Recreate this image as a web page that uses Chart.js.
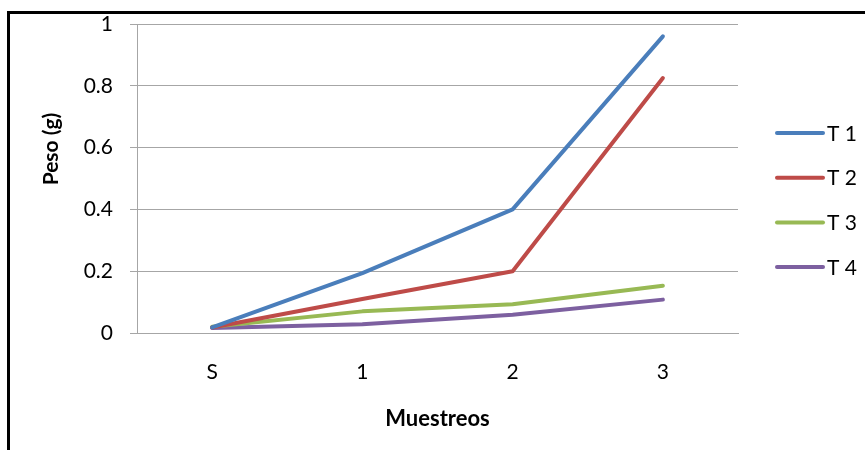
<!DOCTYPE html>
<html>
<head>
<meta charset="utf-8">
<script src="https://cdn.jsdelivr.net/npm/chart.js@4.4.1/dist/chart.umd.min.js"></script>
<style>
  html, body { margin: 0; padding: 0; background: #fff; overflow: hidden; }
  #wrap { position: relative; width: 865px; height: 450px; }
  #frame { position: absolute; left: 7px; top: 11px; width: 1000px; height: 600px;
           border: 3px solid #000; box-sizing: border-box; pointer-events: none; }
  canvas { position: absolute; left: 0; top: 0; }
</style>
</head>
<body>
<div id="wrap">
  <canvas id="c" width="865" height="450"></canvas>
  <div id="frame"></div>
</div>
<script>
// Sampling rounds (x axis)
const categories = ['S', '1', '2', '3'];

// Weight in grams per treatment
const t1 = [0.018, 0.194, 0.40, 0.96];
const t2 = [0.018, 0.11, 0.20, 0.825];
const t3 = [0.02, 0.07, 0.093, 0.153];
const t4 = [0.016, 0.028, 0.059, 0.108];

const seriesNames = ['T 1', 'T 2', 'T 3', 'T 4'];
const seriesColors = ['#4a7ebb', '#be4b48', '#98b954', '#7d60a0'];

const FONT = 'Lato, "Open Sans", sans-serif';
const GRID = '#a6a6a6';

// Y axis title and right-hand legend
const extras = {
  id: 'extras',
  afterDraw(chart) {
    const ctx = chart.ctx;
    ctx.save();
    ctx.fillStyle = '#000';
    ctx.font = 'bold 21px ' + FONT;
    ctx.textAlign = 'center';
    ctx.textBaseline = 'middle';
    ctx.translate(51, 149);
    ctx.rotate(-Math.PI / 2);
    ctx.fillText('Peso (g)', 0, 0);
    ctx.restore();

    ctx.save();
    chart.data.datasets.forEach((ds, i) => {
      const y = 133 + i * 44.7;
      ctx.strokeStyle = ds.borderColor;
      ctx.lineWidth = 4;
      ctx.lineCap = 'round';
      ctx.beginPath();
      ctx.moveTo(777, y);
      ctx.lineTo(823, y);
      ctx.stroke();
      ctx.fillStyle = '#000';
      ctx.font = '21px ' + FONT;
      ctx.textAlign = 'left';
      ctx.textBaseline = 'middle';
      ctx.fillText(ds.label, 827, y + 1);
    });
    ctx.restore();
  }
};

const seriesData = [t1, t2, t3, t4];

new Chart(document.getElementById('c'), {
  type: 'line',
  data: {
    labels: categories,
    datasets: seriesData.map((d, i) => ({
      label: seriesNames[i],
      data: d,
      borderColor: seriesColors[i],
      backgroundColor: seriesColors[i],
      borderWidth: 4,
      borderCapStyle: 'round',
      borderJoinStyle: 'round',
      pointRadius: 0,
      tension: 0,
      fill: false
    }))
  },
  options: {
    responsive: false,
    animation: false,
    devicePixelRatio: 1,
    layout: { padding: { top: 24, right: 127, left: 0, bottom: 0 } },
    plugins: {
      legend: { display: false },
      tooltip: { enabled: false }
    },
    scales: {
      x: {
        offset: true,
        grid: { display: false, drawTicks: false },
        border: { display: true, color: GRID, width: 1 },
        ticks: { color: '#000', padding: 27, font: { family: FONT, size: 21 } },
        title: {
          display: true, text: 'Muestreos', color: '#000',
          font: { family: FONT, size: 22, weight: 'bold' },
          padding: { top: 0, bottom: 18 }
        },
        afterFit(scale) { scale.height = 117; }
      },
      y: {
        min: 0, max: 1,
        ticks: {
          stepSize: 0.2, color: '#000', padding: 17,
          font: { family: FONT, size: 21 },
          callback: v => String(Math.round(v * 10) / 10)
        },
        grid: { color: GRID, lineWidth: 1, tickLength: 7, drawTicks: true },
        border: { display: true, color: GRID, width: 1 },
        afterFit(scale) {
          scale.width = 137;
          scale.paddingTop = 0;
          scale.paddingBottom = 0;
        }
      }
    }
  },
  plugins: [extras]
});
</script>
</body>
</html>
